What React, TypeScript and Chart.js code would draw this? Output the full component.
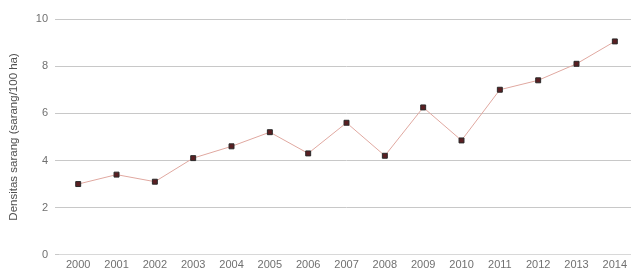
import React, { useEffect, useRef } from "react";
import { Chart, registerables } from "chart.js";

Chart.register(...registerables);

const years = ["2000", "2001", "2002", "2003", "2004", "2005", "2006", "2007", "2008", "2009", "2010", "2011", "2012", "2013", "2014"];
const density = [3.0, 3.4, 3.1, 4.1, 4.6, 5.2, 4.3, 5.6, 4.2, 6.25, 4.85, 7.0, 7.4, 8.1, 9.05];
const yTitle = "Densitas sarang (sarang/100 ha)";

export default function App() {
  const ref = useRef<HTMLCanvasElement | null>(null);
  useEffect(() => {
    if (!ref.current) return;
    const chart = new Chart(ref.current, {
      type: "line",
      data: {
        labels: years,
        datasets: [
          {
            data: density,
            borderColor: "#e0a8a0",
            borderWidth: 1,
            pointStyle: "rect",
            pointRadius: 3.5,
            pointBackgroundColor: "#5a1f22",
            pointBorderColor: "#2a2a2a",
            pointBorderWidth: 1,
            tension: 0,
          },
        ],
      },
      options: {
        animation: false,
        responsive: false,
        maintainAspectRatio: false,
        layout: { padding: { top: 19, right: 0, left: 7, bottom: 1 } },
        plugins: { legend: { display: false }, tooltip: { enabled: false } },
        scales: {
          x: {
            offset: true,
            grid: { display: false, drawTicks: false },
            border: { color: "#d8d8d8" },
            ticks: {
              color: "#707070",
              font: { size: 11, family: "'Liberation Sans Narrow', 'Liberation Sans', sans-serif" },
              maxRotation: 0,
              autoSkip: false,
              padding: 4,
            },
          },
          y: {
            min: 0,
            max: 10,
            ticks: {
              stepSize: 2,
              color: "#707070",
              font: { size: 11, family: "'Liberation Sans Narrow', 'Liberation Sans', sans-serif" },
              padding: 7,
            },
            grid: { color: "#c8c8c8", drawTicks: true, tickLength: 4 },
            border: { display: false },
            title: {
              display: true,
              text: yTitle,
              color: "#505050",
              font: { size: 11.5, family: "'Liberation Sans Narrow', 'Liberation Sans', sans-serif" },
              padding: { top: 0, bottom: 8 },
            },
          },
        },
      },
    });
    return () => chart.destroy();
  }, []);
  return (
    <div style={{ position: "absolute", left: 0, top: 0, width: 631, height: 277, overflow: "hidden", background: "#fff" }}>
      <canvas ref={ref} width={639} height={277} />
    </div>
  );
}
